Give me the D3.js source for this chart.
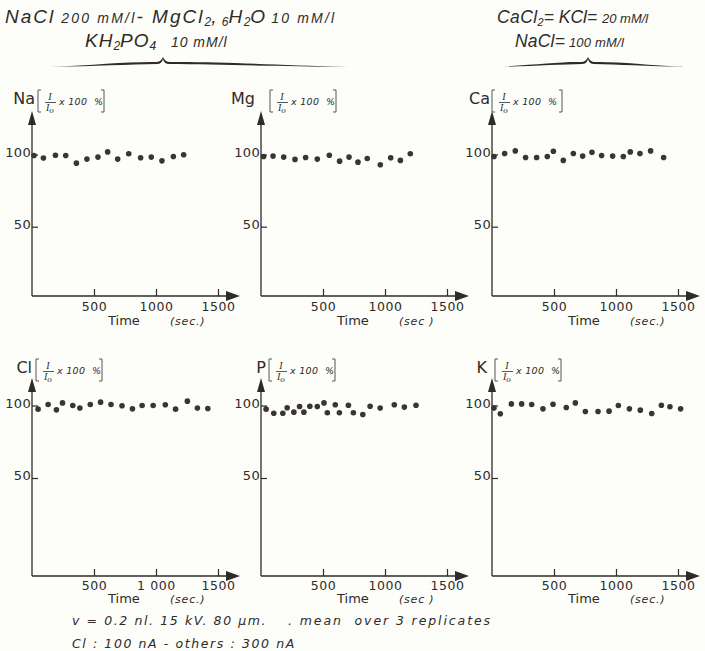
<!DOCTYPE html>
<html><head><meta charset="utf-8">
<script src="https://cdn.jsdelivr.net/npm/d3@7"></script>
<style>body{margin:0;background:#fdfdfa}svg{display:block}</style>
</head><body><svg id="c" width="705" height="651"></svg>
<script>
// ---------- data ----------
const elements = ["Na", "Mg", "Ca", "Cl", "P", "K"];
const naTimes  = [16, 92, 189, 272, 358, 443, 532, 610, 691, 780, 876, 962, 1048, 1140, 1223];
const naValues = [99.3, 97.5, 99.5, 99.3, 94.0, 96.8, 98.2, 101.8, 96.8, 100.5, 97.7, 98.2, 95.6, 98.6, 99.8];
const mgTimes  = [21, 97, 183, 274, 360, 454, 551, 634, 710, 782, 857, 962, 1046, 1124, 1204];
const mgValues = [98.6, 98.9, 98.2, 96.6, 97.9, 96.8, 99.5, 95.4, 98.2, 94.7, 97.2, 92.9, 97.7, 95.9, 100.5];
const caTimes  = [16, 102, 188, 271, 360, 446, 495, 575, 656, 731, 806, 884, 973, 1059, 1115, 1193, 1279, 1384];
const caValues = [98.6, 100.7, 102.5, 97.9, 97.9, 98.6, 102.3, 95.9, 100.7, 98.9, 101.6, 99.3, 98.9, 98.6, 101.8, 100.7, 102.5, 97.9];
const clTimes  = [49, 130, 197, 246, 329, 386, 470, 553, 637, 726, 810, 888, 977, 1075, 1158, 1253, 1334, 1418];
const clValues = [97.5, 100.7, 97.0, 101.8, 100.0, 98.2, 100.7, 102.3, 100.7, 99.8, 97.7, 100.0, 100.0, 100.5, 97.5, 103.0, 98.2, 97.9];
const pTimes   = [41, 103, 176, 211, 265, 311, 346, 394, 454, 508, 535, 599, 632, 705, 745, 821, 880, 961, 1075, 1156, 1250];
const pValues  = [97.5, 94.7, 94.7, 98.4, 95.4, 99.3, 95.4, 99.5, 99.3, 101.8, 95.0, 100.5, 95.0, 100.2, 95.0, 93.8, 99.5, 98.2, 100.5, 98.9, 100.2];
const kTimes   = [16, 67, 156, 239, 320, 411, 492, 599, 672, 753, 855, 944, 1019, 1108, 1196, 1288, 1366, 1435, 1521];
const kValues  = [98.2, 94.3, 101.1, 101.1, 100.7, 97.7, 100.9, 98.6, 101.8, 95.9, 95.9, 96.1, 100.0, 97.7, 96.8, 94.5, 100.2, 99.1, 97.7];

const xTicks = [500, 1000, 1500];
const xTickLabels = ["500", "1000", "1500"];
const clTickLabels = ["500", "1 000", "1500"];
const yTicks = [50, 100];
const yTickLabels = ["50", "100"];
const xAxisTitle = "Time";
const xAxisUnit = ["(sec.)", "(sec )", "(sec.)", "(sec.)", "(sec )", "(sec.)"];
const unitLabel = "x 100  %";

// ---------- layout ----------
const INK = "#2e2b28";
const DOT = "#3a3531";
const svg = d3.select("#c");
svg.append("rect").attr("width", 705).attr("height", 651).attr("fill", "#fdfdfa");

const series = [
  [naTimes, naValues], [mgTimes, mgValues], [caTimes, caValues],
  [clTimes, clValues], [pTimes, pValues], [kTimes, kValues]
];
const colX = [32, 261, 492];
const rows = [
  {base: 296, y100: 154.5, y50: 226.7, tip: 111, head: 104, lab: 6, title: 325},
  {base: 576, y100: 405.5, y50: 478, tip: 378, head: 373, lab: 5, title: 603}
];
const nameEnd = [3, -6, -2, 0, 5, -5];
const brackX = [6, 9, 0, 4, 8, 3];

series.forEach((s, i) => {
  const ax = colX[i % 3], r = rows[Math.floor(i / 3)];
  const x = d3.scaleLinear().domain([0, 1500]).range([ax, ax + 186]);
  const y = d3.scaleLinear().domain([50, 100]).range([r.y50, r.y100]);
  const g = svg.append("g");

  // x axis
  const xa = g.append("g").attr("transform", `translate(0,${r.base})`)
    .call(d3.axisBottom(x).tickValues(xTicks).tickSize(-7).tickPadding(r.lab)
      .tickFormat((d, k) => (i === 3 ? clTickLabels : xTickLabels)[k]));
  xa.select(".domain").remove();
  xa.selectAll("line").attr("stroke", INK).attr("stroke-width", 1.2);
  xa.selectAll("text").attr("fill", INK).attr("font-family", "DejaVu Sans")
    .attr("font-size", 12.5).attr("letter-spacing", 0.6);

  // y axis
  const ya = g.append("g").attr("transform", `translate(${ax},0)`)
    .call(d3.axisLeft(y).tickValues(yTicks).tickSize(-6).tickPadding(1)
      .tickFormat((d, k) => yTickLabels[k]));
  ya.select(".domain").remove();
  ya.selectAll("line").attr("stroke", INK).attr("stroke-width", 1.2);
  ya.selectAll("text").attr("fill", INK).attr("font-family", "DejaVu Sans")
    .attr("font-size", 13).attr("dy", "0.12em").attr("letter-spacing", 0.3);

  // axis lines + arrowheads
  g.append("line").attr("x1", ax).attr("x2", ax + 200).attr("y1", r.base).attr("y2", r.base)
    .attr("stroke", INK).attr("stroke-width", 1.3);
  g.append("line").attr("x1", ax).attr("x2", ax).attr("y1", r.base).attr("y2", r.tip + 8)
    .attr("stroke", INK).attr("stroke-width", 1.3);
  g.append("path").attr("fill", INK)
    .attr("d", `M${ax + 208},${r.base} L${ax + 194},${r.base - 5} L${ax + 194},${r.base + 5} Z`);
  g.append("path").attr("fill", INK)
    .attr("d", `M${ax},${r.tip} L${ax - 4},${r.tip + 14} L${ax + 4},${r.tip + 14} Z`);

  // axis title
  g.append("text").attr("x", ax + 76).attr("y", r.title).text(xAxisTitle)
    .attr("fill", INK).attr("font-family", "DejaVu Sans").attr("font-size", 13);
  g.append("text").attr("x", ax + 138).attr("y", r.title).text(xAxisUnit[i])
    .attr("fill", INK).attr("font-family", "DejaVu Sans").attr("font-style", "italic")
    .attr("font-size", 11).attr("letter-spacing", 0.8);

  // header
  const h = r.head;
  g.append("text").attr("x", ax + nameEnd[i]).attr("y", h).attr("text-anchor", "end")
    .text(elements[i]).attr("fill", INK).attr("font-family", "DejaVu Sans").attr("font-size", 16);
  const bx = ax + brackX[i];
  const bw = i === 2 ? 70 : 66;
  g.append("path").attr("fill", "none").attr("stroke", "#555").attr("stroke-width", 1)
    .attr("d", `M${bx + 3},${h - 14} L${bx},${h - 14} L${bx},${h + 8} L${bx + 3},${h + 8}
                M${bx + bw - 3},${h - 14} L${bx + bw},${h - 14} L${bx + bw},${h + 8} L${bx + bw - 3},${h + 8}`);
  g.append("text").attr("x", bx + 12).attr("y", h - 4).attr("text-anchor", "middle").text("I")
    .attr("fill", INK).attr("font-family", "Liberation Serif").attr("font-style", "italic").attr("font-size", 10);
  g.append("line").attr("x1", bx + 7).attr("x2", bx + 18).attr("y1", h - 1.5).attr("y2", h - 1.5)
    .attr("stroke", INK).attr("stroke-width", 0.8);
  const den = g.append("text").attr("x", bx + 8).attr("y", h + 7)
    .attr("fill", INK).attr("font-family", "Liberation Serif").attr("font-style", "italic").attr("font-size", 10);
  den.append("tspan").text("I");
  den.append("tspan").text("o").attr("dy", 1.5).attr("font-size", 9);
  g.append("text").attr("x", bx + 21).attr("y", h + 1).text(unitLabel)
    .style("white-space", "pre")
    .attr("fill", INK).attr("font-family", "DejaVu Sans").attr("font-style", "italic")
    .attr("font-size", 9.5).attr("letter-spacing", 0.3);

  // dots
  g.selectAll("circle").data(d3.zip(s[0], s[1])).join("circle")
    .attr("cx", d => x(d[0])).attr("cy", d => y(d[1])).attr("r", 2.8).attr("fill", DOT);
});

// ---------- titles ----------
function rich(xp, yp, parts) {
  const t = svg.append("text").attr("x", xp).attr("y", yp).attr("fill", INK)
    .attr("font-family", "Liberation Sans").attr("font-style", "italic")
    .style("white-space", "pre");
  parts.forEach(p => {
    const ts = t.append("tspan").text(p[0]).attr("font-size", p[1]);
    if (p[2]) ts.attr("dy", p[2]);
    if (p[3]) ts.attr("letter-spacing", p[3]);
  });
  return t;
}
rich(5, 23, [["NaCl", 19, 0, 2], [" 200 mM/l", 14, 0, 2.2], ["- MgCl", 19, 0, 2], ["2", 12, 3], [",", 19, -3], [" ", 19], ["6", 12, 3], ["H", 19, -3, 1.5], ["2", 12, 3], ["O", 19, -3], [" 10 mM/l", 14, 0, 2.2]]);
rich(85, 47, [["KH", 19, 0, 1], ["2", 12, 3], ["PO", 19, -3, 1], ["4", 12, 3], ["   10 mM/l", 14, -3, 1]]);
rich(497, 23, [["CaCl", 17.5, 0, 0.4], ["2", 11, 3], ["= KCl= ", 17.5, -3, 0], ["20 mM/l", 13, 0, 0]]);
rich(515, 47, [["NaCl=", 17.5, 0, 0.2], [" 100 mM/l", 13, 0, 0.2]]);

function brace(x0, x1, xt, y0, yt) {
  const L1 = xt - x0, L2 = x1 - xt;
  const d = `M${x0},${y0}
    C${x0 + L1 * 0.4},${y0 - 2} ${x0 + L1 * 0.7},${y0 - 5.5} ${xt - 7},${y0 - 5}
    Q${xt - 2},${y0 - 5} ${xt},${yt}
    Q${xt + 2},${y0 - 5} ${xt + 7},${y0 - 5}
    C${x1 - L2 * 0.7},${y0 - 5.5} ${x1 - L2 * 0.4},${y0 - 2} ${x1},${y0}
    C${x1 - L2 * 0.4},${y0 - 1} ${x1 - L2 * 0.7},${y0 - 2.5} ${xt + 6},${y0 - 3}
    Q${xt + 1},${y0 - 3} ${xt},${yt + 2}
    Q${xt - 1},${y0 - 3} ${xt - 6},${y0 - 3}
    C${x0 + L1 * 0.7},${y0 - 2.5} ${x0 + L1 * 0.4},${y0 - 1} ${x0},${y0} Z`;
  svg.append("path").attr("d", d).attr("fill", INK);
}
brace(50, 348, 163, 67, 57);
brace(496, 686, 588, 67, 57);

// ---------- footer ----------
const foot = (xp, yp, s, ls) => svg.append("text").attr("x", xp).attr("y", yp).text(s)
  .style("white-space", "pre").attr("fill", INK).attr("font-family", "DejaVu Sans")
  .attr("font-style", "italic").attr("font-size", 12.5).attr("letter-spacing", ls);
foot(72, 625, "v = 0.2 nl. 15 kV. 80 \u00b5m.", 1.6);
foot(288, 625, ". mean  over 3 replicates", 1.9);
foot(72, 648, "Cl : 100 nA - others : 300 nA", 1.6);
</script></body></html>
